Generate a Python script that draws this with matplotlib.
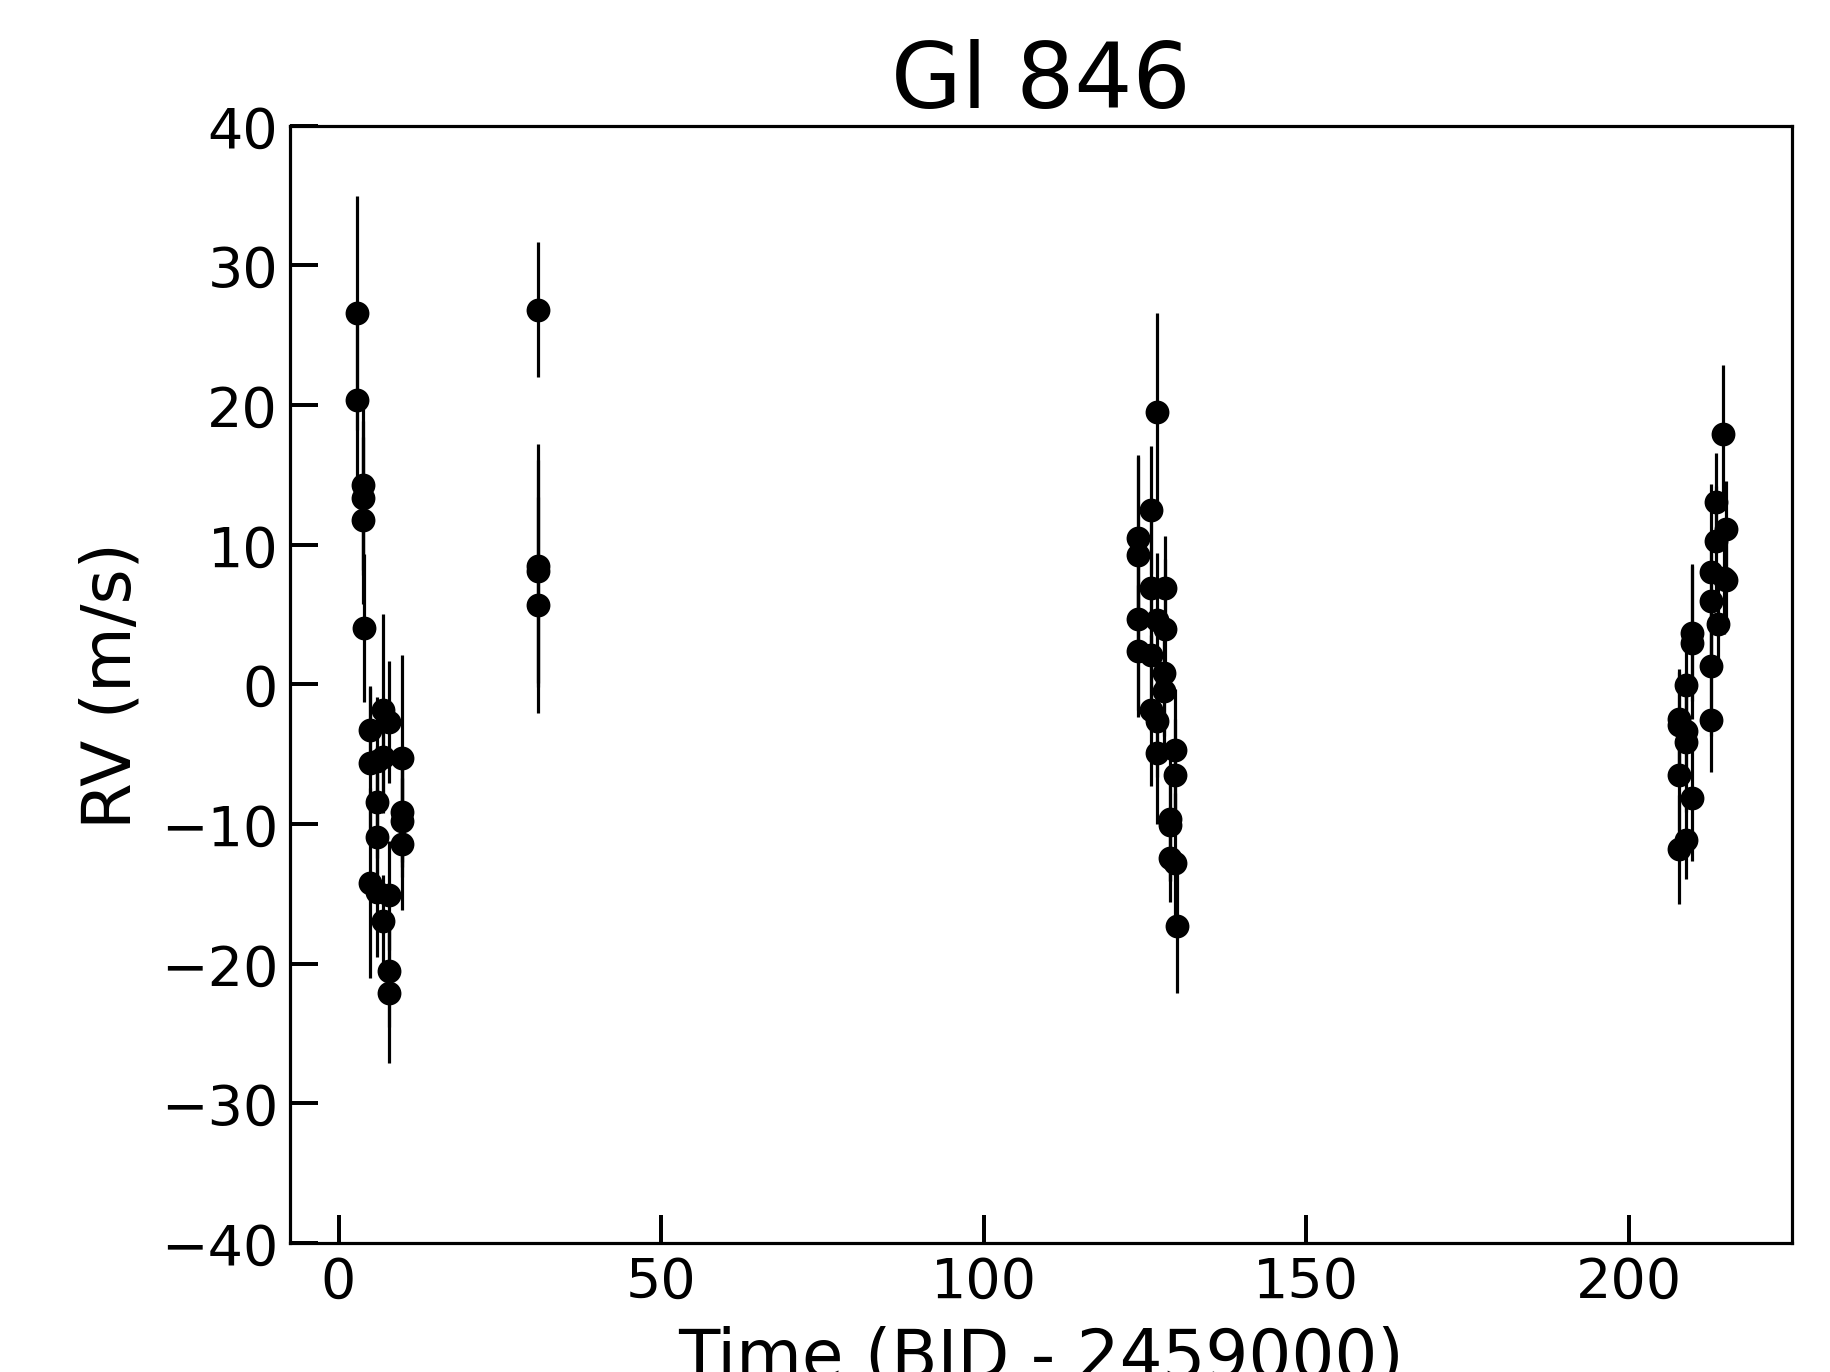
import numpy as np
import matplotlib
matplotlib.use("Agg")
import matplotlib.pyplot as plt

# ---- data: time (BJD - 2459000), RV (m/s), error (m/s) ----
t_c1 = [2.9, 2.9, 3.85, 3.85, 3.85, 4.0, 4.88, 4.88, 4.88, 5.9, 5.9, 5.9,
        5.9, 6.95, 6.95, 6.95, 7.88, 7.88, 7.88, 7.88, 9.9, 9.9, 9.9, 9.9]
rv_c1 = [26.6, 20.4, 14.3, 13.35, 11.75, 4.05, -3.23, -5.59, -14.2, -5.5, -8.4, -10.9,
         -14.84, -1.85, -5.2, -16.94, -2.68, -15.08, -20.5, -22.1, -5.3, -9.1, -9.8, -11.43]
err_c1 = [8.4, 6.1, 6.1, 5.5, 6.0, 5.3, 3.0, 5.5, 6.8, 4.6, 4.0, 4.5,
          4.7, 6.9, 4.0, 3.3, 4.35, 3.9, 4.0, 5.0, 7.4, 4.0, 4.0, 4.7]

t_c2 = [30.95, 31.0, 31.0, 31.0]
rv_c2 = [26.84, 8.5, 8.1, 5.67]
err_c2 = [4.83, 8.7, 8.0, 7.75]

t_c3 = [124.0, 124.0, 124.0, 124.0, 125.9, 125.9, 125.9, 125.9, 126.8, 126.8, 126.8, 126.8,
        128.1, 128.1, 127.9, 127.9, 128.9, 128.9, 128.9, 129.7, 129.7, 129.7, 129.9]
rv_c3 = [10.5, 9.3, 4.7, 2.4, 12.5, 6.9, 2.1, -1.85, 19.5, 4.6, -2.6, -4.9,
         6.9, 4.0, 0.8, -0.5, -9.6, -10.1, -12.4, -12.8, -4.7, -6.5, -17.3]
err_c3 = [5.9, 7.0, 6.5, 4.7, 4.6, 5.0, 5.5, 5.4, 7.1, 4.8, 4.0, 5.1,
          3.7, 5.0, 4.5, 4.0, 4.5, 4.0, 3.2, 5.0, 4.4, 4.0, 4.8]

t_c4 = [207.8, 207.8, 207.8, 207.8, 208.9, 208.9, 208.9, 208.9, 209.8, 209.8, 209.8,
        212.8, 212.8, 212.8, 212.8, 213.6, 213.6, 213.9, 214.6, 215.05, 215.05, 214.8]
rv_c4 = [-2.5, -2.94, -6.5, -11.8, -0.03, -3.3, -4.14, -11.16, 3.7, 3.0, -8.11,
         8.05, 6.0, 1.3, -2.55, 13.08, 10.3, 4.34, 17.9, 11.1, 7.47, 7.6]
err_c4 = [3.6, 3.85, 4.0, 3.9, 4.0, 3.5, 5.0, 2.8, 4.9, 5.5, 4.5,
          6.3, 5.0, 5.0, 3.7, 3.5, 3.9, 3.0, 5.0, 3.5, 3.5, 4.0]

time = np.array(t_c1 + t_c2 + t_c3 + t_c4)
rv = np.array(rv_c1 + rv_c2 + rv_c3 + rv_c4)
rv_err = np.array(err_c1 + err_c2 + err_c3 + err_c4)

fig = plt.figure(figsize=(6.4, 4.8), dpi=286)
ax = fig.add_subplot(111)
fig.subplots_adjust(left=0.1585, right=0.979, top=0.9078, bottom=0.0939)

ax.errorbar(time, rv, yerr=rv_err, fmt="o", color="black", ms=5,
            elinewidth=0.8, capsize=0)

ax.set_xlim(-7.5, 225.3)
ax.set_ylim(-40, 40)
ax.set_xticks([0, 50, 100, 150, 200])
ax.set_yticks(np.arange(-40, 41, 10))
ax.tick_params(direction="in", length=7, width=1, labelsize=14, pad=3)

ax.set_xlabel("Time (BJD - 2459000)", fontsize=17)
ax.set_ylabel("RV (m/s)", fontsize=17)
ax.set_title("Gl 846", fontsize=23, pad=4.7)

fig.savefig("out.png", dpi=286)
